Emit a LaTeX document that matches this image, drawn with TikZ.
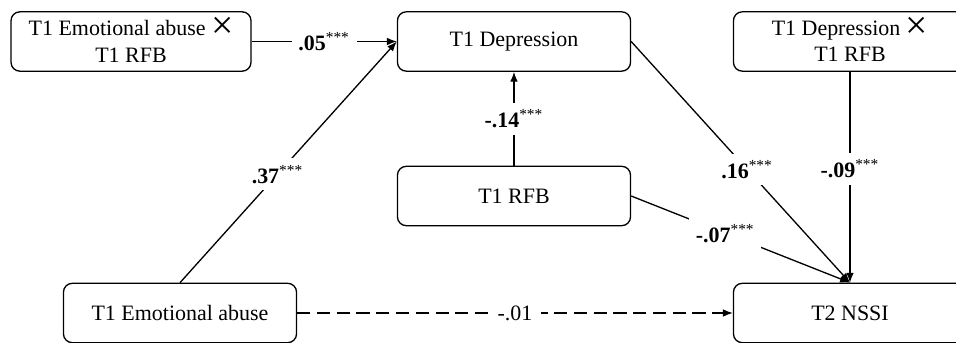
\documentclass[tikz,border=0pt]{standalone}
\usepackage{fontspec}
\setmainfont{Liberation Serif}
\usetikzlibrary{arrows.meta}
\newcommand{\inter}{\raisebox{-1.2pt}[0pt][0pt]{\fontsize{18}{18}\selectfont ×}}
\newcommand{\sig}{\textsuperscript{\mdseries ***}}
\begin{document}
\begin{tikzpicture}[x=0.016cm,y=0.016cm, >={Latex[length=4.5pt,width=3.5pt]},
    var/.style={draw, line width=0.6pt, rounded corners=4pt, minimum width=3.73cm,
      minimum height=0.95cm, align=center, inner sep=1pt},
    coef/.style={fill=white, inner sep=3pt, font=\bfseries},
    link/.style={->, line width=0.6pt}]
    \useasboundingbox (0,0) rectangle (956,342);
    \clip (0,0) rectangle (956,342);
    % variables
    \node[var, minimum width=3.84cm] (abxrfb) at (131,300.5) {T1 Emotional abuse \inter\\T1 RFB};
    \node[var] (dep) at (514,300.5) {T1 Depression};
    \node[var] (depxrfb) at (850,300.5) {T1 Depression \inter\\T1 RFB};
    \node[var] (rfb) at (514,146) {T1 RFB};
    \node[var] (abuse) at (180,29) {T1 Emotional abuse};
    \node[var] (nssi) at (850,29) {T2 NSSI};
    % paths
    \draw[link] (abxrfb) -- node[coef] {.05\sig} (dep);
    \draw[link] (abuse.north) -- node[coef, pos=0.45] {.37\sig} (dep.west);
    \draw[link] (rfb) -- node[coef] {-.14\sig} (dep);
    \draw[link] (dep.east) -- node[coef, pos=0.53] {.16\sig} (nssi.north);
    \draw[link] (rfb.east) -- node[coef, pos=0.43] {-.07\sig} (nssi.north);
    \draw[link] (depxrfb) -- node[coef, pos=0.46] {-.09\sig} (nssi);
    \draw[link, dashed, dash pattern=on 6pt off 3pt] (abuse) -- node[coef, font=\normalfont, inner sep=4pt] {-.01} (nssi);
  \end{tikzpicture}
\end{document}
